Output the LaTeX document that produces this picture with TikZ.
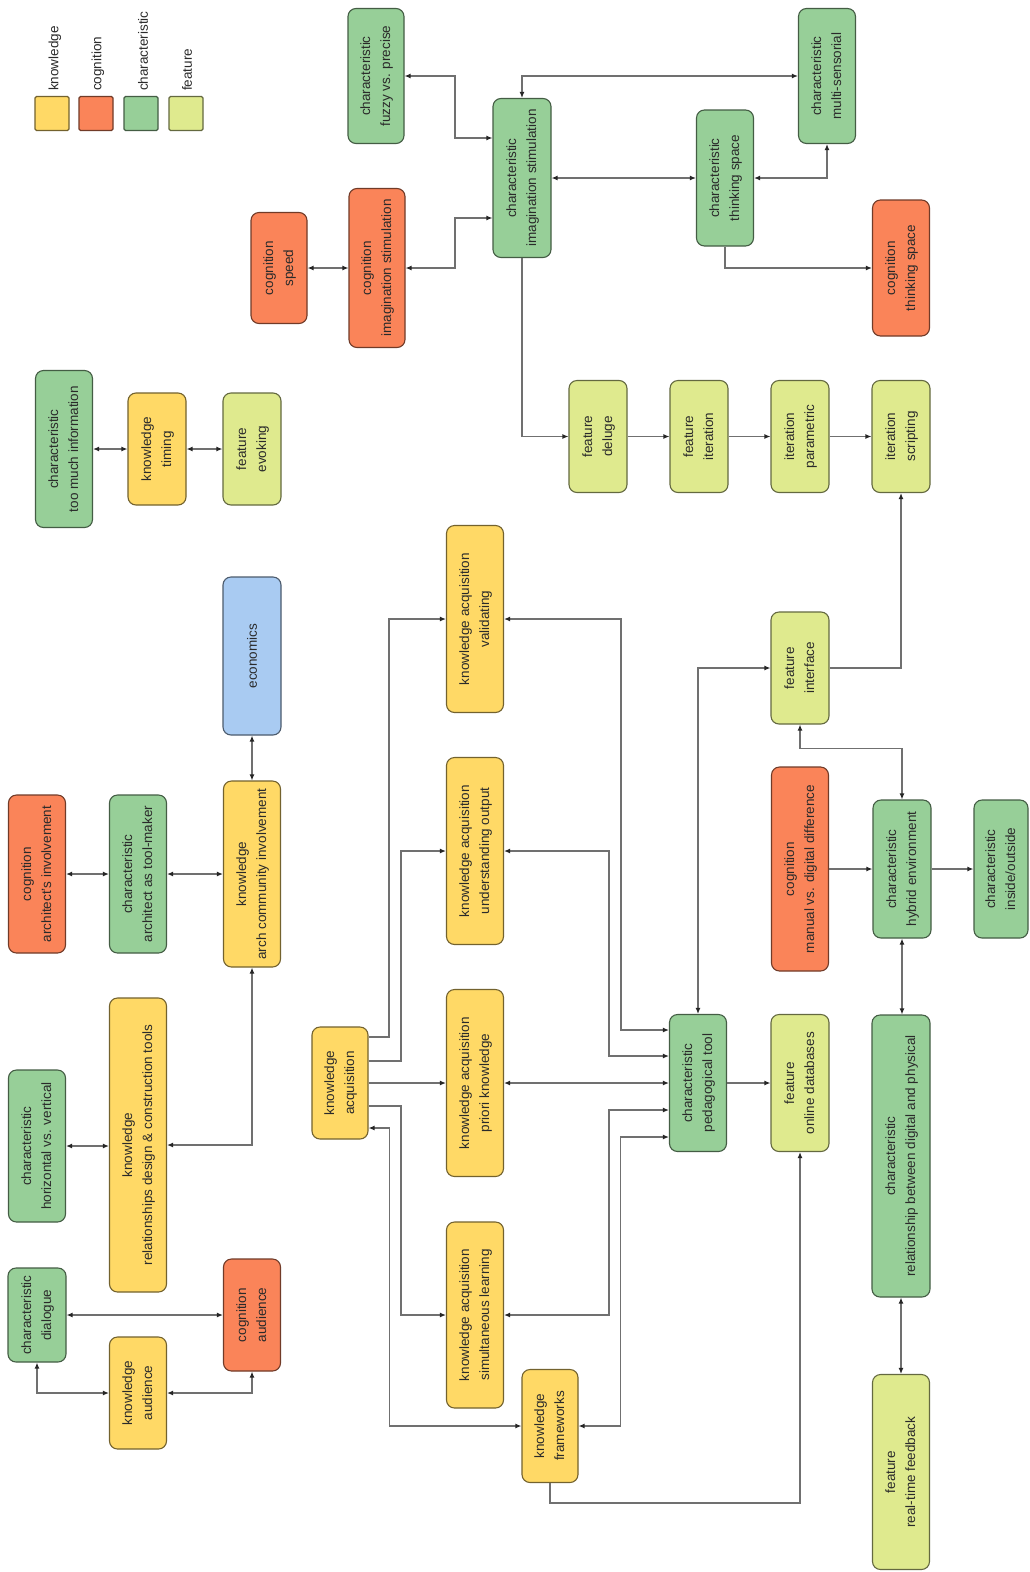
\documentclass[tikz,border=0pt]{standalone}
\usepackage{fontspec}
\setmainfont{Liberation Sans}
\usepackage{graphicx}
\usetikzlibrary{arrows.meta}
\definecolor{cK}{HTML}{FFD966}
\definecolor{cC}{HTML}{FA8459}
\definecolor{cH}{HTML}{97CF98}
\definecolor{cF}{HTML}{DFEA8E}
\definecolor{cE}{HTML}{A9CBF2}
\definecolor{txt}{HTML}{2A2A2A}
\definecolor{lnc}{HTML}{707070}
\newcommand{\twoln}[2]{\rotatebox{90}{\begin{tabular}{@{}c@{}}#1\\#2\end{tabular}}}
\newcommand{\oneln}[1]{\rotatebox{90}{#1}}
\tikzset{
  base/.style={rounded corners=8pt, line width=1.1pt, inner sep=0pt,
    font=\fontsize{13.5}{20}\selectfont, text=txt},
  knw/.style={base, fill=cK, draw=cK!45!black},
  cog/.style={base, fill=cC, draw=cC!45!black},
  chr/.style={base, fill=cH, draw=cH!45!black},
  fea/.style={base, fill=cF, draw=cF!45!black},
  eco/.style={base, fill=cE, draw=cE!45!black},
  box/.style 2 args={minimum width=#1pt, minimum height=#2pt},
  con/.style={draw=lnc, line width=1.2pt},
  arr/.style={con, ->},
  bi/.style={con, <->},
  leg/.style={anchor=south, inner sep=0pt, font=\fontsize{13.5}{20}\selectfont, text=txt}
}
\begin{document}
\begin{tikzpicture}[x=1pt, y=-1pt, >={Latex[length=6pt,width=5pt,color=black!85]}]
\fill[white] (0,0) rectangle (1029,1572);
\useasboundingbox (0,0) rectangle (1029,1572);

% legend
\node[knw, minimum size=34pt, rounded corners=1.5pt] (lk) at (52,113.5) {};
\node[cog, minimum size=34pt, rounded corners=1.5pt] (lc) at (96,113.5) {};
\node[chr, minimum size=34pt, rounded corners=1.5pt] (lh) at (141,113.5) {};
\node[fea, minimum size=34pt, rounded corners=1.5pt] (lf) at (186,113.5) {};
\node[leg] (lkt) at (55,91) {\oneln{knowledge}};
\node[leg] (lct) at (98,91) {\oneln{cognition}};
\node[leg] (lht) at (143,91) {\oneln{characteristic}};
\node[leg] (lft) at (187,91) {\oneln{feature}};

% top cluster
\node[chr, box={56}{135}] (fuzzy) at (376,76) {\twoln{characteristic}{fuzzy vs. precise}};
\node[chr, box={58}{159}] (cimag) at (522,178) {\twoln{characteristic}{imagination stimulation}};
\node[chr, box={57}{135}] (multi) at (827,76) {\twoln{characteristic}{multi-sensorial}};
\node[chr, box={57}{136}] (thinking) at (725,178) {\twoln{characteristic}{thinking space}};
\node[cog, box={56}{159}] (cogimag) at (377,268) {\twoln{cognition}{imagination stimulation}};
\node[cog, box={56}{111}] (speed) at (279,268) {\twoln{cognition}{speed}};
\node[cog, box={57}{136}] (cogthink) at (901,268) {\twoln{cognition}{thinking space}};

% upper left
\node[chr, box={57}{157}] (toomuch) at (64,449) {\twoln{characteristic}{too much information}};
\node[knw, box={58}{112}] (timing) at (157,449) {\twoln{knowledge}{timing}};
\node[fea, box={58}{112}] (evoking) at (252,449) {\twoln{feature}{evoking}};

% feature row
\node[fea, box={58}{112}] (deluge) at (598,436.5) {\twoln{feature}{deluge}};
\node[fea, box={58}{112}] (iteration) at (699,436.5) {\twoln{feature}{iteration}};
\node[fea, box={58}{112}] (parametric) at (800,436.5) {\twoln{iteration}{parametric}};
\node[fea, box={58}{112}] (scripting) at (901,436.5) {\twoln{iteration}{scripting}};

\node[eco, box={58}{158}] (economics) at (252,656) {\oneln{economics}};
\node[knw, box={57}{187}] (validating) at (475,619) {\twoln{knowledge acquisition}{validating}};
\node[fea, box={58}{112}] (interface) at (800,668) {\twoln{feature}{interface}};

\node[cog, box={57}{158}] (cogarch) at (37,874) {\twoln{cognition}{architect's involvement}};
\node[chr, box={57}{158}] (toolmaker) at (138,874) {\twoln{characteristic}{architect as tool-maker}};
\node[knw, box={57}{186}] (archcomm) at (252,874) {\twoln{knowledge}{arch community involvement}};
\node[knw, box={57}{187}] (understanding) at (475,851) {\twoln{knowledge acquisition}{understanding output}};
\node[cog, box={57}{204}] (cogmanual) at (800,869) {\twoln{cognition}{manual vs. digital difference}};
\node[chr, box={58}{138}] (hybrid) at (902,869) {\twoln{characteristic}{hybrid environment}};
\node[chr, box={54}{138}] (inside) at (1001,869) {\twoln{characteristic}{inside/outside}};

\node[chr, box={57}{152}] (horizvert) at (37,1146) {\twoln{characteristic}{horizontal vs. vertical}};
\node[knw, box={57}{294}] (reldesign) at (138,1145) {\twoln{knowledge}{relationships design \& construction tools}};
\node[knw, box={56}{112}] (KA) at (340,1083) {\twoln{knowledge}{acquisition}};
\node[knw, box={57}{187}] (priori) at (475,1083) {\twoln{knowledge acquisition}{priori knowledge}};
\node[chr, box={57}{137}] (ped) at (698,1083) {\twoln{characteristic}{pedagogical tool}};
\node[fea, box={58}{137}] (online) at (800,1083) {\twoln{feature}{online databases}};
\node[chr, box={58}{282}] (reldp) at (901,1156) {\twoln{characteristic}{relationship between digital and physical}};

\node[chr, box={58}{94}] (dialogue) at (37,1315) {\twoln{characteristic}{dialogue}};
\node[knw, box={57}{112}] (knaudience) at (138,1393) {\twoln{knowledge}{audience}};
\node[cog, box={57}{112}] (cogaudience) at (252,1315) {\twoln{cognition}{audience}};
\node[knw, box={57}{186}] (simult) at (475,1315) {\twoln{knowledge acquisition}{simultaneous learning}};
\node[knw, box={56}{113}] (frameworks) at (550,1426) {\twoln{knowledge}{frameworks}};
\node[fea, box={57}{195}] (realtime) at (901,1472) {\twoln{feature}{real-time feedback}};

% connectors: top cluster
\draw[bi] (fuzzy.east) -| (455,138) -- ([yshift=40pt]cimag.west);
\draw[bi] (cogimag.east) -| (455,218) -- ([yshift=-40pt]cimag.west);
\draw[bi] (speed.east) -- (cogimag.west);
\draw[bi] (multi.west) -| (cimag.north);
\draw[bi] (cimag.east) -- (thinking.west);
\draw[bi] (thinking.east) -| (multi.south);
\draw[arr] (thinking.south) |- (cogthink.west);
\draw[arr] (cimag.south) |- (deluge.west);
\draw[arr] (deluge.east) -- (iteration.west);
\draw[arr] (iteration.east) -- (parametric.west);
\draw[arr] (parametric.east) -- (scripting.west);
\draw[arr] (interface.east) -| (scripting.south);

% upper left
\draw[bi] (toomuch.east) -- (timing.west);
\draw[bi] (timing.east) -- (evoking.west);
\draw[bi] (economics.south) -- (archcomm.north);
\draw[bi] (cogarch.east) -- (toolmaker.west);
\draw[bi] (toolmaker.east) -- (archcomm.west);
\draw[bi] (horizvert.east) -- (horizvert.east -| reldesign.west);
\draw[bi] (reldesign.east) -| (archcomm.south);

% bottom left
\draw[bi] (dialogue.east) -- (cogaudience.west);
\draw[bi] (dialogue.south) |- (knaudience.west);
\draw[bi] (knaudience.east) -| (cogaudience.south);

% knowledge acquisition cluster
\draw[arr] ([yshift=46pt]KA.east) -| ([xshift=-57pt]validating.west) -- (validating.west);
\draw[arr] ([yshift=22pt]KA.east) -| ([xshift=-45pt]understanding.west) -- (understanding.west);
\draw[arr] (KA.east) -- (priori.west);
\draw[arr] ([yshift=-23pt]KA.east) -| ([xshift=-45pt]simult.west) -- (simult.west);
\draw[bi] ([yshift=-45pt]KA.east) -| ([xshift=-132pt]frameworks.west) -- (frameworks.west);

\draw[bi] ([yshift=53pt]ped.west) -| ([xshift=117pt]validating.east) -- (validating.east);
\draw[bi] ([yshift=27pt]ped.west) -| ([xshift=105pt]understanding.east) -- (understanding.east);
\draw[bi] (ped.west) -- (priori.east);
\draw[bi] ([yshift=-27pt]ped.west) -| ([xshift=105pt]simult.east) -- (simult.east);
\draw[bi] ([yshift=-54pt]ped.west) -| ([xshift=42pt]frameworks.east) -- (frameworks.east);

\draw[bi] (ped.north) |- (interface.west);
\draw[arr] (ped.east) -- (online.west);
\draw[arr] (frameworks.south) |- ([yshift=-351pt]online.south) -- (online.south);

% right cluster
\draw[bi] (interface.south) -- ++(0,24) -| (hybrid.north);
\draw[arr] (cogmanual.east) -- (hybrid.west);
\draw[arr] (hybrid.east) -- (inside.west);
\draw[bi] (hybrid.south) -- (hybrid.south |- reldp.north);
\draw[bi] (reldp.south) -- (reldp.south |- realtime.north);
\end{tikzpicture}
\end{document}
